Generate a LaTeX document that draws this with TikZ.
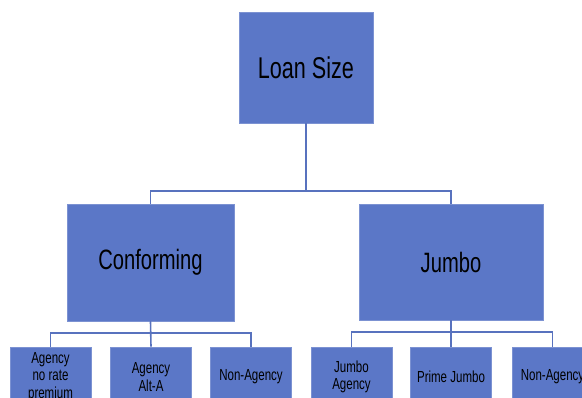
\documentclass[tikz,border=0pt]{standalone}
\usepackage{fontspec}
\newfontfamily\narrowfont[FakeStretch=0.72]{Liberation Sans}
\definecolor{boxblue}{RGB}{91,119,199}
\definecolor{linkblue}{RGB}{88,114,190}
\tikzset{
  sizebox/.style={rectangle, fill=boxblue, draw=boxblue!80!white, line width=0.6pt, inner sep=0pt, align=center, font=\narrowfont},
  leafbox/.style={sizebox, minimum width=81, minimum height=60, font=\narrowfont\fontsize{16}{17.5}\selectfont},
  link/.style={-, draw=linkblue, line width=1.6pt}
}
\begin{document}
\begin{tikzpicture}[x=1pt, y=1pt]
\useasboundingbox (0,0) rectangle (582,-398);
\clip (0,0) rectangle (582,-398);
% top level
\node[sizebox, minimum width=134, minimum height=111, font=\narrowfont\fontsize{30}{32}\selectfont] (loan) at (306,-67.5) {Loan Size};
% second level
\node[sizebox, minimum width=167, minimum height=117, font=\narrowfont\fontsize{28}{30}\selectfont] (conf) at (150.5,-262.5) {Conforming};
\node[sizebox, minimum width=184, minimum height=116, font=\narrowfont\fontsize{28}{30}\selectfont] (jumbo) at (451,-262) {Jumbo};
% leaves
\node[leafbox] (c1) at (50.5,-377) {Agency\\no rate\\premium};
\node[leafbox] (c2) at (151,-377) {Agency\\Alt-A};
\node[leafbox] (c3) at (251,-377) {Non-Agency};
\node[leafbox] (j1) at (351.5,-377) {Jumbo\\Agency};
\node[leafbox] (j2) at (451,-377) {Prime Jumbo};
\node[leafbox] (j3) at (552.5,-377) {Non-Agency};
% connectors
\path[link] (loan.south) -- ++(0,-68) -| (conf.north);
\path[link] (loan.south) -- ++(0,-68) -| (jumbo.north);
\path[link] (conf.south) -- ++(0,-12) -| (c1.north);
\path[link] (conf.south) -- (c2.north);
\path[link] (conf.south) -- ++(0,-12) -| (c3.north);
\path[link] (jumbo.south) -- ++(0,-12) -| (j1.north);
\path[link] (jumbo.south) -- (j2.north);
\path[link] (jumbo.south) -- ++(0,-12) -| (j3.north);
\end{tikzpicture}
\end{document}
